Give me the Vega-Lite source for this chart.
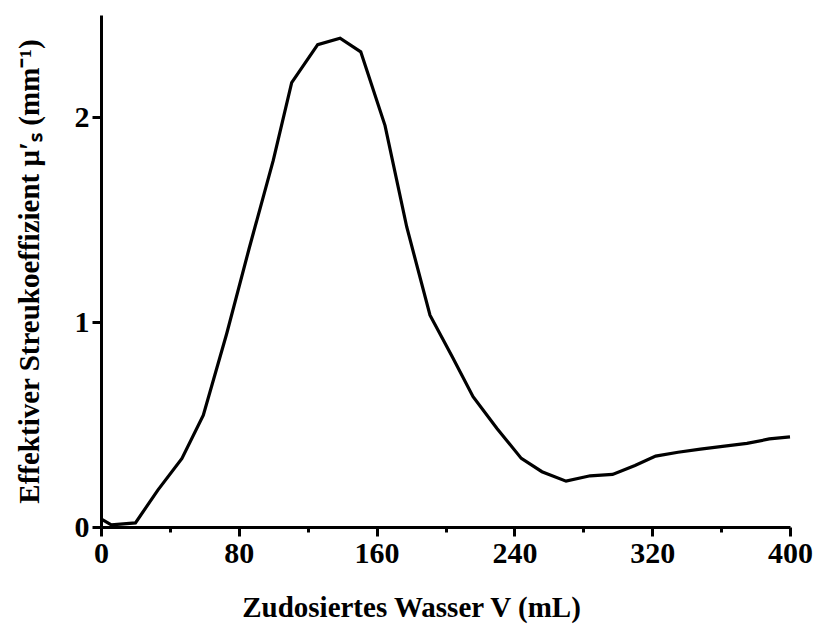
{
  "$schema": "https://vega.github.io/schema/vega-lite/v6.json",
  "width": 689,
  "height": 512,
  "autosize": {"type": "none"},
  "padding": {"left": 101, "top": 15, "right": 27, "bottom": 101},
  "background": "white",
  "config": {
    "view": {"stroke": null},
    "font": "Liberation Serif",
    "axis": {
      "grid": false,
      "domainColor": "black",
      "domainWidth": 3,
      "tickColor": "black",
      "tickWidth": 3,
      "labelColor": "black",
      "labelFont": "Liberation Serif",
      "labelFontWeight": "bold",
      "labelFontSize": 30,
      "titleColor": "black",
      "titleFont": "Liberation Serif",
      "titleFontWeight": "bold",
      "titleFontSize": 29
    }
  },
  "data": {
    "values": [
      {"v": 0, "mu": 0.04},
      {"v": 6, "mu": 0.01},
      {"v": 20, "mu": 0.02},
      {"v": 33, "mu": 0.18},
      {"v": 47, "mu": 0.335},
      {"v": 59.4, "mu": 0.546},
      {"v": 73, "mu": 0.945},
      {"v": 86, "mu": 1.36},
      {"v": 100, "mu": 1.79},
      {"v": 110.7, "mu": 2.17},
      {"v": 125.8, "mu": 2.355},
      {"v": 138.8, "mu": 2.387},
      {"v": 150.8, "mu": 2.32},
      {"v": 164.9, "mu": 1.96},
      {"v": 177.5, "mu": 1.465},
      {"v": 191, "mu": 1.034},
      {"v": 204, "mu": 0.83},
      {"v": 216, "mu": 0.636},
      {"v": 230, "mu": 0.48},
      {"v": 244, "mu": 0.335},
      {"v": 256, "mu": 0.27},
      {"v": 270, "mu": 0.224},
      {"v": 284, "mu": 0.25},
      {"v": 297, "mu": 0.257},
      {"v": 310, "mu": 0.3},
      {"v": 322, "mu": 0.346},
      {"v": 335, "mu": 0.365},
      {"v": 348, "mu": 0.38},
      {"v": 362, "mu": 0.395},
      {"v": 375, "mu": 0.408},
      {"v": 388, "mu": 0.43},
      {"v": 400, "mu": 0.44}
    ]
  },
  "mark": {"type": "line", "color": "black", "strokeWidth": 3.2, "strokeJoin": "miter", "clip": false},
  "encoding": {
    "x": {
      "field": "v",
      "type": "quantitative",
      "scale": {"domain": [0, 400], "nice": false, "zero": false},
      "axis": {
        "title": "Zudosiertes Wasser V (mL)",
        "values": [0, 40, 80, 120, 160, 200, 240, 280, 320, 360, 400],
        "format": "d",
        "labelExpr": "datum.value % 80 === 0 ? datum.label : ''",
        "tickSize": {"condition": {"test": "datum.value % 80 === 0", "value": 9}, "value": 5},
        "labelPadding": 2,
        "labelFlush": false,
        "titlePadding": 25,
        "titleX": 310
      }
    },
    "y": {
      "field": "mu",
      "type": "quantitative",
      "scale": {"domain": [0, 2.5], "nice": false},
      "axis": {
        "title": "Effektiver Streukoeffizient μ′ₛ (mm⁻¹)",
        "values": [0, 0.5, 1, 1.5, 2, 2.5],
        "format": "d",
        "labelExpr": "datum.value % 1 === 0 ? datum.label : ''",
        "tickSize": {"condition": {"test": "datum.value % 1 === 0", "value": 9}, "value": 5},
        "labelPadding": 3,
        "labelFlush": false,
        "titlePadding": 30
      }
    }
  }
}
